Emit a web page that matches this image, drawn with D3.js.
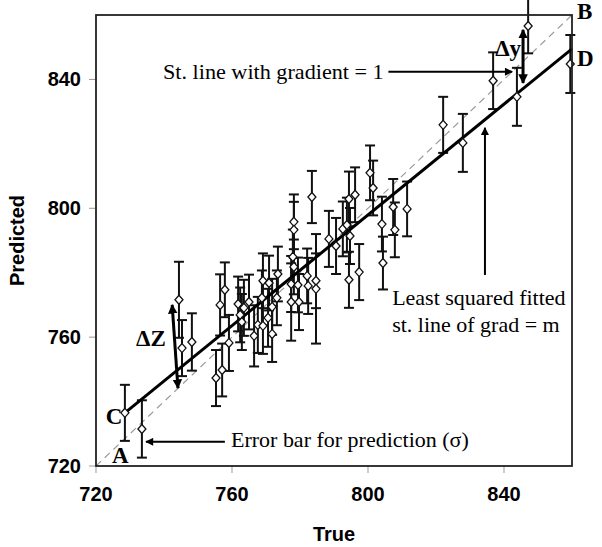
<!DOCTYPE html>
<html>
<head>
<meta charset="utf-8">
<style>
  body { margin: 0; background: #fff; }
  svg { display: block; }
  .tick-lbl { font-family: "Liberation Sans", Arial, sans-serif; font-weight: bold; font-size: 20px; }
  .ann { font-family: "Liberation Serif", "Times New Roman", serif; font-size: 20px; }
  .letter { font-family: "Liberation Serif", "Times New Roman", serif; font-weight: bold; font-size: 23px; }
</style>
</head>
<body>
<script src="https://d3js.org/d3.v7.min.js"></script>
<script>
// measured values (true vs predicted) with prediction error sigma
var trueVals = [728.5, 733.5, 744.4, 745.3, 748.2, 755.3, 757.1, 756.5, 757.9, 759.1,
                761.8, 762.4, 763.5, 765.0, 762.9, 766.5, 767.6, 769.1, 768.8, 769.1,
                770.9, 770.6, 771.8, 771.8, 773.2, 773.5, 777.4, 777.4, 777.9, 778.2,
                778.2, 778.2, 779.4, 779.7, 782.1, 782.4, 784.7, 784.7, 783.5, 788.5,
                790.6, 792.6, 793.8, 794.4, 794.7, 796.2, 794.4, 797.4, 800.6, 801.5,
                804.1, 804.4, 807.4, 807.9, 811.5, 822.1, 827.9, 836.8, 843.8, 847.1,
                859.5];
var predVals = [736.5, 731.5, 771.6, 756.6, 758.5, 747.3, 749.8, 770.0, 774.7, 758.2,
                770.3, 766.9, 769.1, 770.9, 764.7, 760.4, 763.8, 763.5, 772.2, 777.5,
                776.8, 766.0, 769.4, 761.0, 772.2, 779.6, 776.5, 770.9, 784.9, 781.8,
                795.8, 793.3, 776.2, 770.9, 779.0, 775.9, 777.5, 775.0, 803.5, 790.5,
                788.3, 793.6, 794.8, 802.9, 791.4, 804.2, 777.8, 780.2, 811.0, 806.3,
                795.1, 783.0, 800.4, 793.3, 799.8, 825.9, 820.3, 839.6, 834.6, 856.6,
                844.8];
var errVals = [8.7, 8.9, 11.8, 8.7, 8.9, 8.7, 8.2, 9.5, 8.5, 8.7,
               8.5, 8.5, 8.7, 8.5, 8.7, 9.5, 8.7, 8.7, 8.5, 8.5,
               8.5, 9.0, 8.7, 8.7, 8.5, 8.5, 8.7, 12.0, 8.5, 8.5,
               8.5, 8.7, 8.5, 8.7, 8.5, 8.7, 8.5, 17.0, 8.1, 8.7,
               8.7, 8.5, 8.5, 8.5, 8.7, 8.5, 8.7, 8.7, 8.5, 8.5,
               8.5, 8.2, 8.7, 8.5, 8.5, 8.7, 9.0, 8.8, 9.0, 8.5,
               9.0];

var xTicks = [720, 760, 800, 840];
var yTicks = [720, 760, 800, 840];

// least squares line (C -> D) and unit gradient line (A -> B)
var fitLine = [[728.5, 736.5], [860, 849.5]];
var unitLine = [[720, 720], [860, 860]];

var W = 602, H = 547;
var L = 96, R = 572, T = 15, B = 466;

var x = d3.scaleLinear().domain([720, 860]).range([L, R]);
var y = d3.scaleLinear().domain([720, 860]).range([B, T]);

var svg = d3.select("body").append("svg").attr("width", W).attr("height", H);

var defs = svg.append("defs");
defs.append("marker").attr("id", "head")
    .attr("viewBox", "0 0 10 10").attr("refX", 9).attr("refY", 5)
    .attr("markerWidth", 5).attr("markerHeight", 4)
    .attr("markerUnits", "strokeWidth")
    .attr("orient", "auto-start-reverse")
  .append("path").attr("d", "M0,0 L10,5 L0,10 Z").attr("fill", "#000");
defs.append("marker").attr("id", "headBig")
    .attr("viewBox", "0 0 10 10").attr("refX", 9).attr("refY", 5)
    .attr("markerWidth", 3.2).attr("markerHeight", 3.4)
    .attr("markerUnits", "strokeWidth")
    .attr("orient", "auto-start-reverse")
  .append("path").attr("d", "M0,0 L10,5 L0,10 Z").attr("fill", "#000");

// ticks
svg.append("g").selectAll("line").data(yTicks).enter().append("line")
    .attr("x1", L - 7).attr("x2", L).attr("y1", d => y(d)).attr("y2", d => y(d))
    .attr("stroke", "#999").attr("stroke-width", 1);
svg.append("g").selectAll("line").data(xTicks).enter().append("line")
    .attr("x1", d => x(d)).attr("x2", d => x(d)).attr("y1", B).attr("y2", B + 7)
    .attr("stroke", "#999").attr("stroke-width", 1);

svg.append("g").selectAll("text").data(yTicks).enter().append("text")
    .attr("class", "tick-lbl").attr("x", L - 15).attr("y", d => y(d) + 7)
    .attr("text-anchor", "end").text(d => d);
svg.append("g").selectAll("text").data(xTicks).enter().append("text")
    .attr("class", "tick-lbl").attr("x", d => x(d)).attr("y", B + 35)
    .attr("text-anchor", "middle").text(d => d);

svg.append("text").attr("class", "tick-lbl")
    .attr("x", (L + R) / 2).attr("y", 541).attr("text-anchor", "middle").text("True");
svg.append("text").attr("class", "tick-lbl")
    .attr("transform", "translate(24," + ((T + B) / 2) + ") rotate(-90)")
    .attr("text-anchor", "middle").text("Predicted");

// unit gradient dashed line
var line = d3.line().x(d => x(d[0])).y(d => y(d[1]));
svg.append("path").attr("d", line(unitLine))
    .attr("stroke", "#9a9a9a").attr("stroke-width", 1.2)
    .attr("stroke-dasharray", "7,5").attr("fill", "none");

// error bars
var pts = trueVals.map((v, i) => ({t: v, p: predVals[i], e: errVals[i]}));
var eb = svg.append("g").attr("stroke", "#111").attr("stroke-width", 2);
pts.forEach(function(d) {
    eb.append("line").attr("x1", x(d.t)).attr("x2", x(d.t))
        .attr("y1", y(d.p - d.e)).attr("y2", y(d.p + d.e));
    [d.p - d.e, d.p + d.e].forEach(function(v) {
        eb.append("line").attr("x1", x(d.t) - 5).attr("x2", x(d.t) + 5)
            .attr("y1", y(v)).attr("y2", y(v));
    });
});

// fitted line
svg.append("path").attr("d", line(fitLine))
    .attr("stroke", "#000").attr("stroke-width", 3).attr("fill", "none");

// diamond markers
svg.append("g").selectAll("path").data(pts).enter().append("path")
    .attr("d", "M0,-4.5 L4,0 L0,4.5 L-4,0 Z")
    .attr("transform", d => "translate(" + x(d.t) + "," + y(d.p) + ")")
    .attr("fill", "#fff").attr("stroke", "#111").attr("stroke-width", 1.3);

// frame
svg.append("rect").attr("x", L).attr("y", T).attr("width", R - L).attr("height", B - T)
    .attr("fill", "none").attr("stroke", "#222").attr("stroke-width", 1.8);

// annotations (positions in data units)
function arrow(p0, p1, w, mk, both) {
    var a = svg.append("line")
        .attr("x1", x(p0[0])).attr("y1", y(p0[1]))
        .attr("x2", x(p1[0])).attr("y2", y(p1[1]))
        .attr("stroke", "#000").attr("stroke-width", w)
        .attr("marker-end", "url(#" + mk + ")");
    if (both) a.attr("marker-start", "url(#" + mk + ")");
}
// the source text is a little wider than Times, so stretch it sideways
function label(cls, p, s, sx) {
    svg.append("text").attr("class", cls)
        .attr("transform", "translate(" + x(p[0]) + "," + y(p[1]) + ") scale(" + (sx || 1) + ",1)")
        .text(s);
}

label("ann", [739.7, 840.0], "St. line with gradient = 1", 1.11);
arrow([806.0, 842.4], [842.4, 842.4], 2, "head", false);

label("ann", [807.1, 770.0], "Least squared fitted", 1.1);
label("ann", [807.1, 761.6], "st. line of grad = m", 1.1);
arrow([834.4, 779.3], [834.4, 825.0], 2, "head", false);

label("ann", [759.7, 725.9], "Error bar for prediction (\u03c3)", 1.1);
arrow([757.9, 727.5], [734.7, 727.5], 2, "head", false);

arrow([742.4, 770.0], [744.1, 744.2], 3, "headBig", true);
label("letter", [731.8, 757.3], "\u0394Z");
arrow([845.6, 855.4], [845.6, 838.9], 3, "headBig", true);
label("letter", [837.4, 847.3], "\u0394y");

label("letter", [724.7, 720.9], "A");
label("letter", [722.9, 733.0], "C");
label("letter", [861.5, 858.8], "B");
label("letter", [861.5, 844.2], "D");
</script>
</body>
</html>
